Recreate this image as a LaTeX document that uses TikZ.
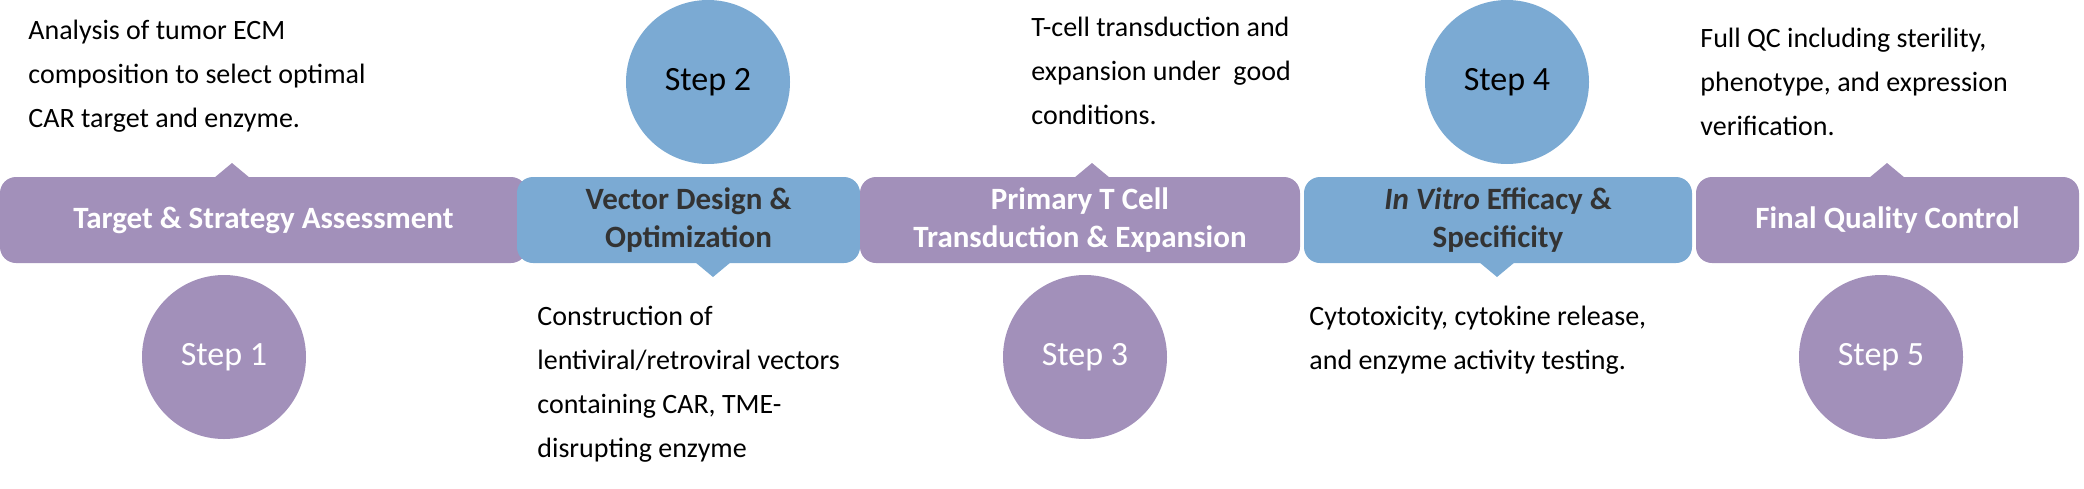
\documentclass[tikz,border=0pt]{standalone}
\usepackage{fontspec}
\setmainfont{Carlito}
\definecolor{stepPurple}{HTML}{A290BA}
\definecolor{stepBlue}{HTML}{7BAAD3}
\tikzset{
    bar/.style={rounded corners=8pt, minimum height=43pt, inner sep=0pt, align=center,
        font=\fontsize{15.5}{19}\selectfont\bfseries},
    circ/.style={circle, minimum size=82pt, inner sep=0pt, font=\fontsize{17}{20}\selectfont},
    note/.style={anchor=north west, align=left, inner sep=0pt, font=\fontsize{14}{22}\selectfont}
}

\begin{document}
\begin{tikzpicture}[x=0.5pt, y=-0.5pt]
    \useasboundingbox (0,0) rectangle (2084,488);

    % bars
    \node[bar, fill=stepPurple, text=white, minimum width=263.5pt] (bar1) at (263.5,220) {Target \& Strategy Assessment};
    \fill[stepPurple] (214,178) -- (232,163) -- (250,178) -- cycle;
    \node[bar, fill=stepBlue, text=black!80, minimum width=171.5pt] (bar2) at (688.5,220) {Vector Design \&\\Optimization};
    \fill[stepBlue] (695,262) -- (713,277) -- (731,262) -- cycle;
    \node[bar, fill=stepPurple, text=white, minimum width=220pt] (bar3) at (1080,220) {Primary T Cell\\Transduction \& Expansion};
    \fill[stepPurple] (1074,178) -- (1092,163) -- (1110,178) -- cycle;
    \node[bar, fill=stepBlue, text=black!80, minimum width=194pt] (bar4) at (1498,220) {\textit{In Vitro} Efficacy \&\\Specificity};
    \fill[stepBlue] (1479,262) -- (1497,277) -- (1515,262) -- cycle;
    \node[bar, fill=stepPurple, text=white, minimum width=191.5pt] (bar5) at (1887.5,220) {Final Quality Control};
    \fill[stepPurple] (1869,178) -- (1887,163) -- (1905,178) -- cycle;

    % steps
    \node[circ, fill=stepPurple, text=white] (step1) at (224,357) {Step 1};
    \node[circ, fill=stepBlue, text=black] (step2) at (708,82) {Step 2};
    \node[circ, fill=stepPurple, text=white] (step3) at (1085,357) {Step 3};
    \node[circ, fill=stepBlue, text=black] (step4) at (1507,82) {Step 4};
    \node[circ, fill=stepPurple, text=white] (step5) at (1881,357) {Step 5};

    % notes
    \node[note] (note1) at (28,20) {Analysis of tumor ECM\\composition to select optimal\\CAR target and enzyme.};
    \node[note] (note2) at (537,306) {Construction of\\lentiviral/retroviral vectors\\containing CAR, TME-\\disrupting enzyme};
    \node[note] (note3) at (1031,17) {T-cell transduction and\\expansion under~ good\\conditions.};
    \node[note] (note4) at (1309,306) {Cytotoxicity, cytokine release,\\and enzyme activity testing.};
    \node[note] (note5) at (1700,28) {Full QC including sterility,\\phenotype, and expression\\verification.};
\end{tikzpicture}
\end{document}
